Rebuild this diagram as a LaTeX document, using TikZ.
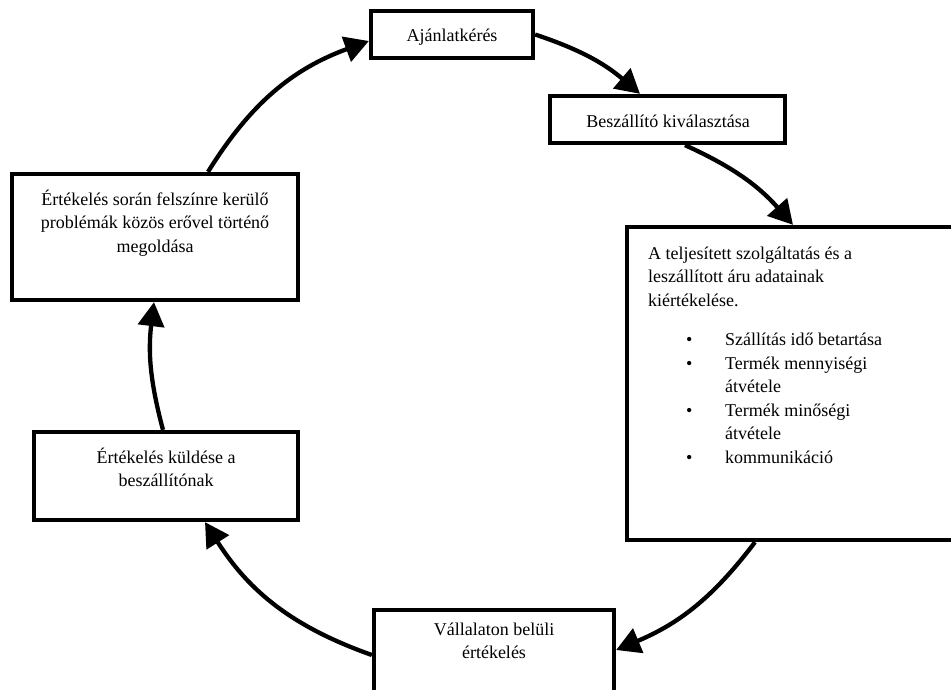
\documentclass[tikz,border=0pt]{standalone}
\usepackage{fontspec}
\setmainfont{Liberation Serif}
\usetikzlibrary{arrows.meta}
\begin{document}
\begin{tikzpicture}[x=1pt,y=-1pt,
  box/.style={draw=black, line width=4.3pt, inner sep=0pt},
  txt/.style={inner sep=0pt, anchor=base, font=\fontsize{18pt}{23.5pt}\selectfont},
  arr/.style={line width=4.3pt, -{Triangle[length=24pt,width=26pt]}}]
\clip (0,0) rectangle (951,689);
\fill[white] (0,0) rectangle (951,689);
% boxes
\node[box, minimum width=162pt, minimum height=47pt] (n1) at (452,34.5) {};
\node[box, minimum width=235pt, minimum height=47pt] (n2) at (667.5,119.5) {};
\node[box, minimum width=353pt, minimum height=313pt] (n3) at (803.5,383.5) {};
\node[box, minimum width=240pt, minimum height=110pt] (n4) at (494,665) {};
\node[box, minimum width=264pt, minimum height=88pt] (n5) at (166,476) {};
\node[box, minimum width=286pt, minimum height=126pt] (n6) at (155,237) {};
% texts
\node[txt] (t1) at (452,41) {Ajánlatkérés};
\node[txt] (t2) at (668,127) {Beszállító kiválasztása};
\node[txt, anchor=base west] (t3) at (648,259) {\begin{tabular}[t]{@{}p{38pt}@{}p{39pt}@{}l@{}}
\multicolumn{3}{@{}l@{}}{A teljesített szolgáltatás és a}\\
\multicolumn{3}{@{}l@{}}{leszállított áru adatainak}\\
\multicolumn{3}{@{}l@{}}{kiértékelése.}\\[16pt]
 & • & Szállítás idő betartása\\
 & • & Termék mennyiségi\\
 &   & átvétele\\
 & • & Termék minőségi\\
 &   & átvétele\\
 & • & kommunikáció
\end{tabular}};
\node[txt] (t4) at (494,635) {\begin{tabular}[t]{@{}c@{}}Vállalaton belüli\\értékelés\end{tabular}};
\node[txt] (t5) at (166,463) {\begin{tabular}[t]{@{}c@{}}Értékelés küldése a\\beszállítónak\end{tabular}};
\node[txt] (t6) at (155,205) {\begin{tabular}[t]{@{}c@{}}Értékelés során felszínre kerülő\\problémák közös erővel történő\\megoldása\end{tabular}};
% arrows
\draw[arr] (n1.east) to[bend left=11] ([xshift=-27.5pt]n2.north);
\draw[arr] ([xshift=17.5pt]n2.south) to[bend left=12] ([xshift=-10.5pt]n3.north);
\draw[arr] ([xshift=-48.5pt]n3.south) to[bend left=15] ([yshift=15pt]n4.east);
\draw[arr] ([yshift=10pt]n4.west) to[bend left=19] ([xshift=39pt]n5.south);
\draw[arr] ([xshift=-3pt]n5.north) to[bend left=11] ([xshift=-1pt]n6.south);
\draw[arr] ([xshift=53pt]n6.north) to[bend left=19] ([yshift=-6.5pt]n1.west);
\end{tikzpicture}
\end{document}
